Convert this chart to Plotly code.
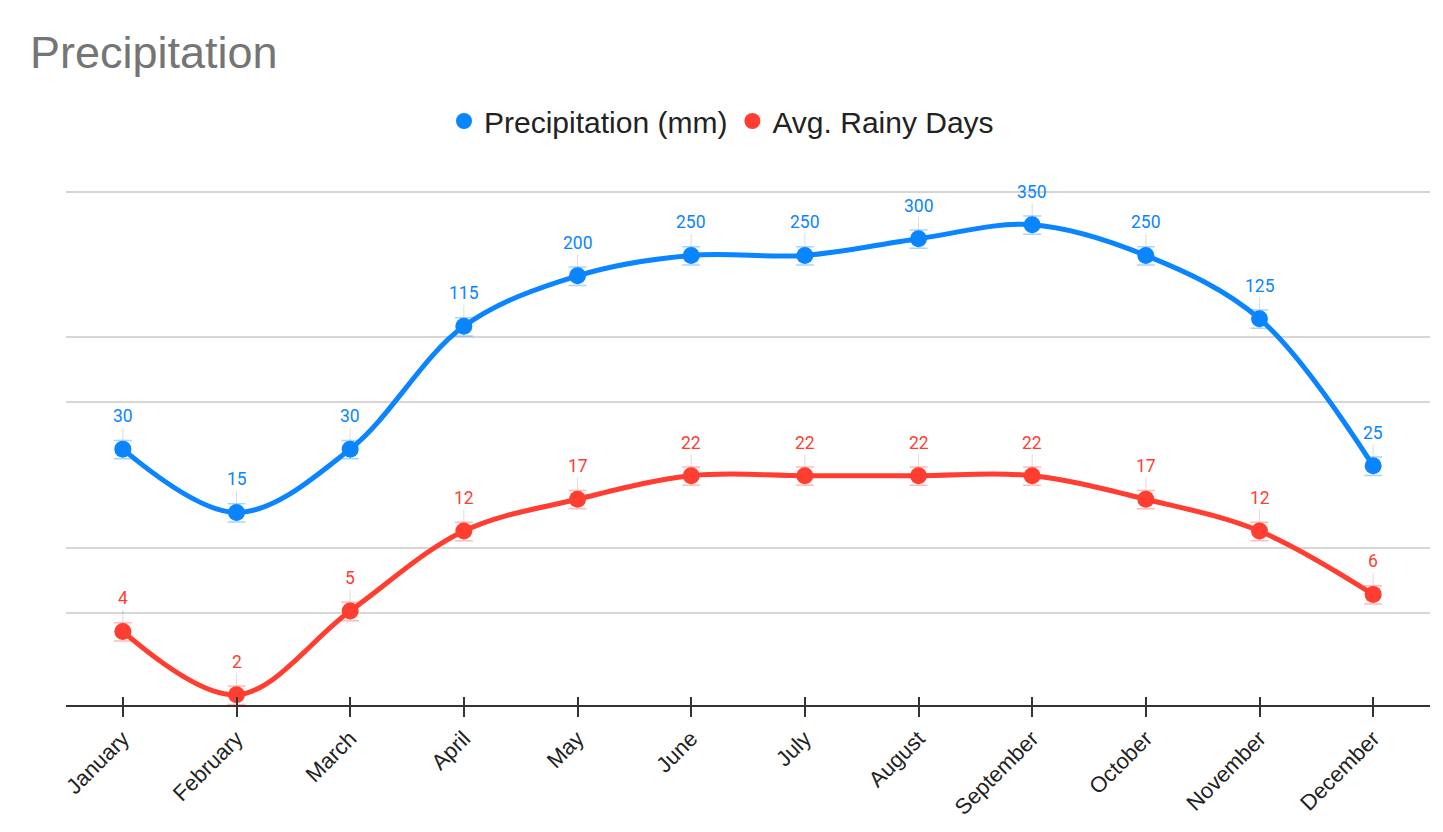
import numpy as np
import plotly.graph_objects as go

months = ["January", "February", "March", "April", "May", "June", "July",
          "August", "September", "October", "November", "December"]
precip_mm = [30, 15, 30, 115, 200, 250, 250, 300, 350, 250, 125, 25]
rainy_days = [4, 2, 5, 12, 17, 22, 22, 22, 22, 17, 12, 6]

BLUE = "#0A84FF"
RED = "#FF3D30"
precip_grid = [5, 50, 500]
days_grid = [10, 100]

fig = go.Figure()

def add_series(vals, color, err_color, name, axis):
    fig.add_trace(go.Scatter(
        x=months, y=vals, yaxis=axis, mode="lines+markers", name=name,
        line=dict(color=color, width=5, shape="spline", smoothing=1.0),
        marker=dict(color=color, size=17),
        error_y=dict(type="percent", value=10, color=err_color, thickness=1.5, width=9),
        showlegend=False, hoverinfo="x+y"))
    fig.add_trace(go.Scatter(
        x=[None], y=[None], yaxis=axis, mode="markers", name=name,
        marker=dict(color=color, size=16), showlegend=True))
    yref = "y" if axis == "y" else "y2"
    for m, v in zip(months, vals):
        fig.add_annotation(
            x=m, y=np.log10(v), xref="x", yref=yref, text=str(v),
            showarrow=True, ax=0, ay=-33, arrowhead=0, arrowwidth=1,
            arrowcolor="rgba(0,0,0,0.13)", standoff=9,
            font=dict(family="Roboto", size=17.5, color=color))

add_series(precip_mm, BLUE, "rgba(10,132,255,0.35)", "Precipitation (mm)", "y")
add_series(rainy_days, RED, "rgba(255,61,48,0.35)", "Avg. Rainy Days", "y2")

# invisible trace to carry the inner tick marks axis
fig.add_trace(go.Scatter(x=months, y=precip_mm, xaxis="x2", yaxis="y",
                         mode="markers", marker=dict(opacity=0),
                         showlegend=False, hoverinfo="skip"))

fig.update_layout(
    width=1443, height=832,
    paper_bgcolor="white", plot_bgcolor="white",
    margin=dict(l=66, r=13, t=179, b=127),
    font=dict(family="Liberation Sans, Arial, sans-serif", color="#222222"),
    title=dict(text="Precipitation", x=30/1443, xanchor="left",
               y=1-52/832, yanchor="middle", xref="container", yref="container",
               font=dict(size=45, color="#757575")),
    legend=dict(orientation="h", x=0.5, xanchor="center", xref="container",
                y=1-121/832, yanchor="middle", yref="container",
                font=dict(size=30, color="#222222"), itemsizing="trace",
                traceorder="normal"),
    xaxis=dict(type="category", range=[-0.5, 11.5], showgrid=False,
               showline=True, linecolor="#333333", linewidth=2,
               ticks="outside", ticklen=10, tickwidth=1.5, tickcolor="#333333",
               tickangle=-45, tickfont=dict(size=22, color="#222222")),
    xaxis2=dict(type="category", range=[-0.5, 11.5], overlaying="x", anchor="y",
                side="bottom", showgrid=False, showline=False, ticks="inside",
                ticklen=8, tickwidth=1.5, tickcolor="#333333", showticklabels=False),
    yaxis=dict(type="log", range=[0.261, 2.761], tickvals=precip_grid,
               showticklabels=False, showgrid=True, gridcolor="#d6d6d6",
               gridwidth=1.5, zeroline=False, showline=False),
    yaxis2=dict(type="log", range=[0.2524, 2.7524], tickvals=days_grid,
                overlaying="y", side="right", showticklabels=False,
                showgrid=True, gridcolor="#d6d6d6", gridwidth=1.5,
                zeroline=False, showline=False),
)

fig.write_html("out.html")
